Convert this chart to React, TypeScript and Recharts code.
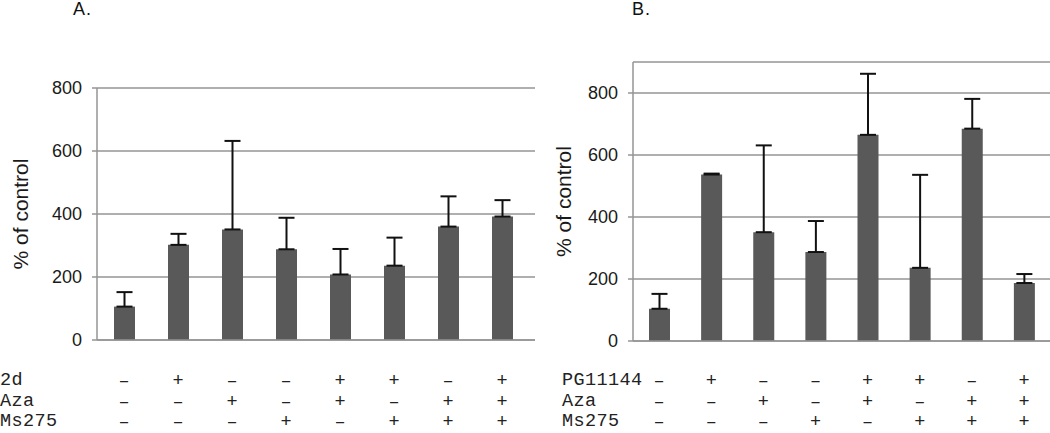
import React from "react";
import { BarChart, Bar, XAxis, YAxis, CartesianGrid, ErrorBar, Label } from "recharts";

// conditions 1..8, same order in both panels
const categories = ["c1", "c2", "c3", "c4", "c5", "c6", "c7", "c8"];

// panel A: 2d / Aza / Ms275
const meanA = [106, 302, 351, 288, 208, 236, 360, 392];
const errUpA = [46, 35, 281, 100, 81, 89, 96, 52];

// panel B: PG11144 / Aza / Ms275
const meanB = [104, 537, 351, 287, 665, 236, 685, 187];
const errUpB = [48, 3, 280, 100, 197, 300, 96, 29];

const ticksA = [0, 200, 400, 600, 800];
const ticksB = [0, 200, 400, 600, 800];

const rowLabelsA = ["2d", "Aza", "Ms275"];
const rowLabelsB = ["PG11144", "Aza", "Ms275"];

const signRows = [
  ["-", "+", "-", "-", "+", "+", "-", "+"],
  ["-", "-", "+", "-", "+", "-", "+", "+"],
  ["-", "-", "-", "+", "-", "+", "+", "+"],
];

const BAR = "#595959";
const GRID = "#959595";
const SANS = "'Liberation Sans', Arial, sans-serif";
const MONO = "'Liberation Mono', 'Courier New', monospace";
const ROW_Y = [386, 406.5, 427];

function buildData(means: number[], errs: number[]) {
  return categories.map((c, i) => ({ cond: c, value: means[i], err: [0, errs[i]] }));
}

function SignTick(props: any) {
  const { x, payload } = props;
  const idx = props.index ?? categories.indexOf(payload?.value);
  return (
    <g>
      {signRows.map((row, r) => (
        <text key={r} x={x} y={ROW_Y[r]} textAnchor="middle"
          fontFamily={MONO} fontSize={18.5} fill="#222">
          {row[idx] === "-" ? "\u2013" : "+"}
        </text>
      ))}
    </g>
  );
}

type PanelProps = {
  left: number; width: number; top: number; yAxisWidth: number; xHeight: number;
  domain: [number, number]; ticks: number[]; data: any[]; padRight: number; labelX: number;
};

function Panel(p: PanelProps) {
  return (
    <div style={{ position: "absolute", left: p.left, top: 0 }}>
      <BarChart width={p.width} height={433} data={p.data}
        margin={{ top: p.top, right: p.left === 0 ? 5 : 0, left: 0, bottom: 0 }}>
        <CartesianGrid vertical={false} stroke={GRID} strokeWidth={1.5} />
        <XAxis dataKey="cond" height={p.xHeight} tickLine={false} tickSize={0} tickMargin={0}
          axisLine={{ stroke: GRID, strokeWidth: 1.5 }} interval={0}
          padding={{ left: 0, right: p.padRight }} tick={<SignTick />} />
        <YAxis width={p.yAxisWidth} domain={p.domain} ticks={p.ticks} interval={0}
          allowDataOverflow tickSize={5} tickMargin={10}
          axisLine={{ stroke: GRID, strokeWidth: 1.5 }} tickLine={{ stroke: GRID, strokeWidth: 1.5 }}
          tick={{ fontFamily: SANS, fontSize: 18, fill: "#1a1a1a" }}>
          <Label content={(lp: any) => {
            const vb = lp.viewBox || { y: p.top, height: 433 - p.top - p.xHeight };
            const cy = vb.y + vb.height / 2;
            return (
              <text x={p.labelX} y={cy} transform={`rotate(-90 ${p.labelX} ${cy})`}
                textAnchor="middle" dominantBaseline="central"
                fontFamily={SANS} fontSize={21} fill="#1a1a1a">% of control</text>
            );
          }} />
        </YAxis>
        <Bar dataKey="value" fill={BAR} barSize={21} isAnimationActive={false}>
          <ErrorBar dataKey="err" stroke="#111" strokeWidth={2} width={8} direction="y" />
        </Bar>
      </BarChart>
    </div>
  );
}

function RowLabels({ left, labels }: { left: number; labels: string[] }) {
  return (
    <>
      {labels.map((l, i) => (
        <div key={l + i} style={{
          position: "absolute", left, top: ROW_Y[i] - 16, fontFamily: MONO, fontSize: 18.5,
          lineHeight: "21px", color: "#222", whiteSpace: "pre", letterSpacing: 0.4,
        }}>{l}</div>
      ))}
    </>
  );
}

export default function App() {
  const dataA = buildData(meanA, errUpA);
  const dataB = buildData(meanB, errUpB);
  const title = { position: "absolute" as const, top: -1, fontFamily: SANS, fontSize: 18, color: "#111", letterSpacing: 1 };
  return (
    <div style={{ position: "relative", width: 1050, height: 433, overflow: "hidden", background: "#fff" }}>
      <style>{"body{margin:0}"}</style>
      <div style={{ ...title, left: 73 }}>A.</div>
      <div style={{ ...title, left: 632 }}>B.</div>
      <Panel left={0} width={540} top={88} yAxisWidth={97} xHeight={93}
        domain={[0, 800]} ticks={ticksA} data={dataA} padRight={6} labelX={20} />
      <Panel left={530} width={520} top={62} yAxisWidth={103} xHeight={92}
        domain={[0, 900]} ticks={ticksB} data={dataB} padRight={0} labelX={33} />
      <RowLabels left={0} labels={rowLabelsA} />
      <RowLabels left={562} labels={rowLabelsB} />
    </div>
  );
}
